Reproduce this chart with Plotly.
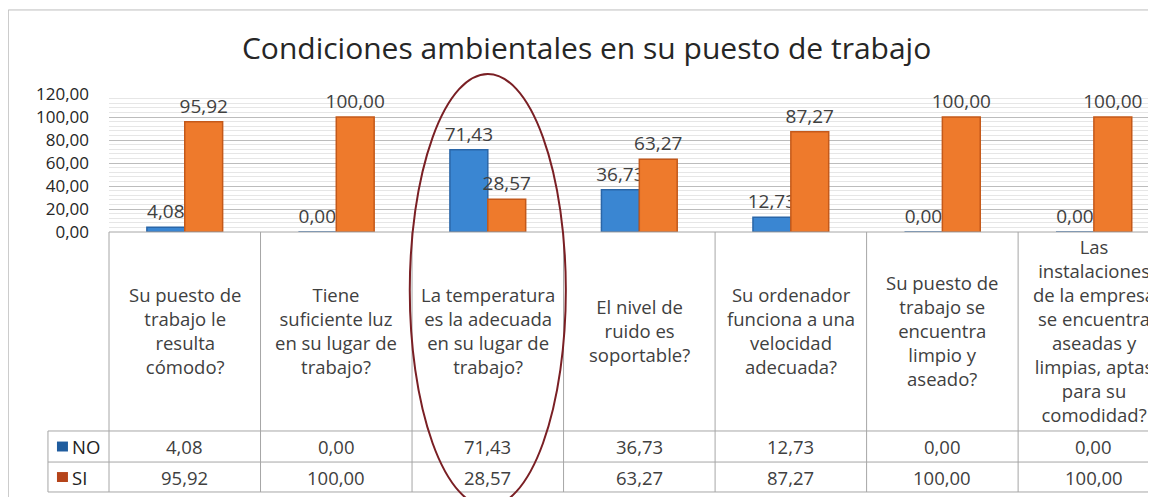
import plotly.graph_objects as go

# categories as shown in the table (line breaks as in the source chart)
categories = [
    "Su puesto de<br>trabajo le<br>resulta<br>cómodo?",
    "Tiene<br>suficiente luz<br>en su lugar de<br>trabajo?",
    "La temperatura<br>es la adecuada<br>en su lugar de<br>trabajo?",
    "El nivel de<br>ruido es<br>soportable?",
    "Su ordenador<br>funciona a una<br>velocidad<br>adecuada?",
    "Su puesto de<br>trabajo se<br>encuentra<br>limpio y<br>aseado?",
    "Las<br>instalaciones<br>de la empresa<br>se encuentra<br>aseadas y<br>limpias, aptas<br>para su<br>comodidad?",
]
no_values = [4.08, 0.00, 71.43, 36.73, 12.73, 0.00, 0.00]
si_values = [95.92, 100.00, 28.57, 63.27, 87.27, 100.00, 100.00]
series_names = ["NO", "SI"]
highlight_index = 2

FONT = "Open Sans"
TXT = "#404040"
BLUE, BLUE_EDGE = "#3a86d2", "#2a66a8"
ORANGE, ORANGE_EDGE = "#ee7a2c", "#c4591a"
GRID = "#a6a6a6"

X_RANGE = [-0.5, 6.41]  # last column is cut by the page edge


def fmt(v):
    return f"{v:.2f}".replace(".", ",")


fig = go.Figure()
for name, vals, col, edge in [
    (series_names[0], no_values, BLUE, BLUE_EDGE),
    (series_names[1], si_values, ORANGE, ORANGE_EDGE),
]:
    fig.add_trace(
        go.Bar(
            x=categories,
            y=vals,
            name=name,
            marker=dict(color=col, line=dict(color=edge, width=1.5)),
            texttemplate="%{y:.2f}",
            textposition="outside",
            constraintext="none",
            cliponaxis=False,
            textfont=dict(family=FONT, size=19, color=TXT),
            showlegend=False,
        )
    )

shapes = []
ann = []

# outer chart border
shapes.append(dict(type="rect", xref="paper", yref="paper", x0=-0.0962, x1=1.02,
                   y0=-1.95, y1=1.609, line=dict(color="#bdbdbd", width=1)))

# table rows (paper y of the row lines)
y_top, y_no, y_si, y_bot = 0.0, -1.442, -1.667, -1.884
leg_left = -0.0583
shapes.append(dict(type="line", xref="paper", yref="paper", x0=0, x1=1.0,
                   y0=y_top, y1=y_top, line=dict(color=GRID, width=1)))
for yy in (y_no, y_si, y_bot):
    shapes.append(dict(type="line", xref="paper", yref="paper", x0=leg_left, x1=1.0,
                       y0=yy, y1=yy, line=dict(color=GRID, width=1)))
shapes.append(dict(type="line", xref="paper", yref="paper", x0=leg_left, x1=leg_left,
                   y0=y_no, y1=y_bot, line=dict(color=GRID, width=1)))
shapes.append(dict(type="line", xref="paper", yref="paper", x0=0, x1=0,
                   y0=y_top, y1=y_bot, line=dict(color=GRID, width=1)))
for i in range(1, len(categories) + 1):
    shapes.append(dict(type="line", xref="x", yref="paper", x0=i - 0.5, x1=i - 0.5,
                       y0=y_top, y1=y_bot, line=dict(color=GRID, width=1)))

# category labels and table values
for i, cat in enumerate(categories):
    ann.append(dict(x=cat, xref="x", y=-0.717, yref="paper", text=cat, showarrow=False,
                    xanchor="center", yanchor="middle", align="center",
                    font=dict(family=FONT, size=18.5, color=TXT)))
    ann.append(dict(x=cat, xref="x", y=(y_no + y_si) / 2, yref="paper", text=fmt(no_values[i]),
                    showarrow=False, yanchor="middle",
                    font=dict(family=FONT, size=18.5, color=TXT)))
    ann.append(dict(x=cat, xref="x", y=(y_si + y_bot) / 2, yref="paper", text=fmt(si_values[i]),
                    showarrow=False, yanchor="middle",
                    font=dict(family=FONT, size=18.5, color=TXT)))

# legend keys inside the table
for name, key, y0, y1 in [
    (series_names[0], "#1f5c9e", y_no, y_si),
    (series_names[1], "#b5441a", y_si, y_bot),
]:
    yc = (y0 + y1) / 2
    shapes.append(dict(type="rect", xref="paper", yref="paper", x0=-0.0497, x1=-0.0392,
                       y0=yc - 0.036, y1=yc + 0.036, line=dict(width=0), fillcolor=key))
    ann.append(dict(x=-0.0375, xref="paper", y=yc, yref="paper", text=name, showarrow=False,
                    xanchor="left", yanchor="middle",
                    font=dict(family=FONT, size=18.5, color="#222222")))

# red ellipse around the highlighted question
shapes.append(dict(type="circle", xref="x", yref="paper",
                   x0=highlight_index - 0.515, x1=highlight_index + 0.515,
                   y0=-1.99, y1=1.145, line=dict(color="#7a1f24", width=2)))

# page body adds 8px on the left/top, so the figure is 8px smaller
fig.update_layout(
    width=1148,
    height=489,
    margin=dict(l=101, r=0, t=86, b=265),
    paper_bgcolor="white",
    plot_bgcolor="white",
    separators=",.",
    barmode="group",
    bargap=0.5,
    bargroupgap=0,
    title=dict(text="Condiciones ambientales en su puesto de trabajo",
               x=0.504, xref="container", xanchor="center",
               y=0.918, yref="container", yanchor="middle",
               font=dict(family=FONT, size=30, color="#262626")),
    xaxis=dict(type="category", range=X_RANGE, showticklabels=False, showgrid=False,
               zeroline=False, showline=False),
    yaxis=dict(range=[0, 120], dtick=20, tickformat=".2f", showgrid=True, gridcolor="#bcbcbc",
               zeroline=False, showline=False, ticks="", ticklabelstandoff=19,
               tickfont=dict(family=FONT, size=17, color="#262626"),
               minor=dict(dtick=4, showgrid=True, gridcolor="#e6e6e6")),
    shapes=shapes,
    annotations=ann,
    showlegend=False,
)

fig.write_html("out.html")
